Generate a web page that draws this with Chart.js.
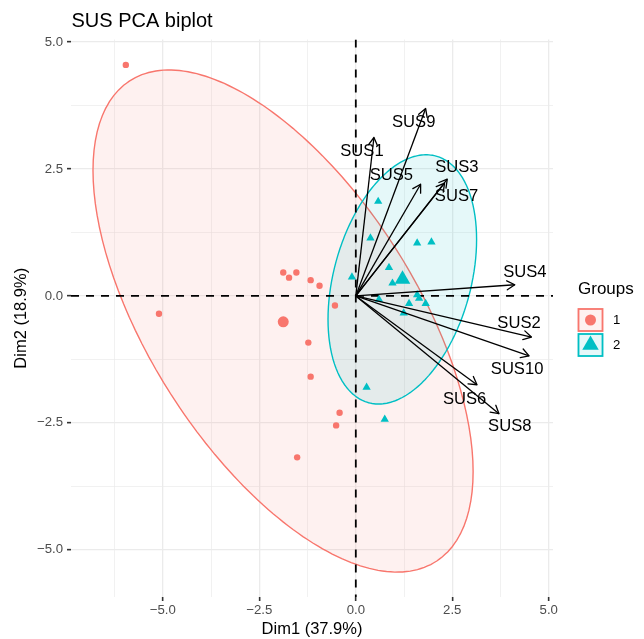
<!DOCTYPE html>
<html>
<head>
<meta charset="utf-8">
<title>SUS PCA biplot</title>
<script src="https://cdn.jsdelivr.net/npm/chart.js@4.4.1/dist/chart.umd.min.js"></script>
<style>
  html, body { margin: 0; padding: 0; background: #fff; }
  #wrap { width: 644px; height: 639px; }
</style>
</head>
<body>
<div id="wrap"><canvas id="biplot"></canvas></div>
<script>
// individuals of group 1 (Dim1, Dim2)
const group1X = [-5.96, -5.10, -1.88, -1.73, -1.54, -1.17, -0.94, -0.54, -1.23, -1.17, -0.42, -0.51, -1.52];
const group1Y = [4.55, -0.35, 0.46, 0.36, 0.46, 0.31, 0.20, -0.19, -0.92, -1.59, -2.30, -2.55, -3.18];

// individuals of group 2
const group2X = [0.58, 0.38, 1.59, 1.96, 0.86, 0.95, -0.10, 0.60, 1.59, 1.64, 1.81, 1.38, 1.24, 0.28, 0.75];
const group2Y = [1.86, 1.14, 1.04, 1.06, 0.56, 0.25, 0.37, -0.07, 0.02, -0.05, -0.15, -0.15, -0.34, -1.80, -2.43];

// group mean points
const groupNames = ['1', '2'];
const meanX = [-1.88, 1.21];
const meanY = [-0.51, 0.33];

// concentration ellipses: centre, half extents along each axis, correlation
const ellipseCx = [-1.885, 1.205];
const ellipseCy = [-0.495, 0.325];
const ellipseHalfX = [4.925, 1.925];
const ellipseHalfY = [4.945, 2.455];
const ellipseCorr = [-0.60, 0.32];

// variables (arrow tips) and where their names sit
const varNames = ['SUS1', 'SUS2', 'SUS3', 'SUS4', 'SUS5', 'SUS6', 'SUS7', 'SUS8', 'SUS9', 'SUS10'];
const varX = [0.47, 4.55, 2.37, 4.12, 1.68, 3.14, 2.30, 3.71, 1.81, 4.49];
const varY = [3.12, -0.81, 2.30, 0.22, 2.20, -1.75, 2.22, -2.32, 3.69, -1.18];
const labelX = [0.16, 4.23, 2.62, 4.38, 0.92, 2.82, 2.61, 3.99, 1.50, 4.18];
const labelY = [2.84, -0.55, 2.54, 0.46, 2.38, -2.03, 1.95, -2.57, 3.42, -1.45];

// axes
const xRange = [-7.38, 5.11];
const yRange = [-5.93, 5.05];
const xMajor = [-5, -2.5, 0, 2.5, 5];
const xMajorLabels = ['\u22125.0', '\u22122.5', '0.0', '2.5', '5.0'];
const xMinor = [-6.25, -3.75, -1.25, 1.25, 3.75];
const yMajor = [-5, -2.5, 0, 2.5, 5];
const yMajorLabels = ['\u22125.0', '\u22122.5', '0.0', '2.5', '5.0'];
const yMinor = [-3.75, -1.25, 1.25, 3.75];

const FONT = '"Liberation Sans", Arial, Helvetica, sans-serif';
const groupColors = ['#F8766D', '#00BFC4'];
const groupFills = ['rgba(248,118,109,0.1)', 'rgba(0,191,196,0.1)'];
const groupShapes = ['circle', 'triangle'];

function ellipsePoints(i) {
  const d = Math.acos(ellipseCorr[i]);
  const pts = [];
  for (let k = 0; k <= 120; k++) {
    const t = k / 120 * 2 * Math.PI;
    pts.push({
      x: ellipseCx[i] + ellipseHalfX[i] * Math.cos(t),
      y: ellipseCy[i] + ellipseHalfY[i] * Math.cos(t + d)
    });
  }
  return pts;
}

function zip(xs, ys) {
  return xs.map((v, i) => ({ x: v, y: ys[i] }));
}

function axisOptions(range, major, labels, minor, title, horizontal) {
  const isMajor = v => major.indexOf(v) >= 0;
  return {
    type: 'linear',
    min: range[0],
    max: range[1],
    border: { display: false },
    afterBuildTicks: scale => {
      scale.ticks = major.concat(minor).sort((a, b) => a - b).map(v => ({ value: v }));
    },
    afterFit: scale => {
      if (horizontal) scale.height = 42; else scale.width = 71;
    },
    grid: {
      color: '#EBEBEB',
      lineWidth: c => (c.tick && isMajor(c.tick.value)) ? 1.3 : 0.7,
      tickLength: 4,
      tickWidth: 1.6,
      tickColor: c => (c.tick && isMajor(c.tick.value)) ? '#333333' : 'rgba(0,0,0,0)'
    },
    ticks: {
      autoSkip: false,
      maxRotation: 0,
      padding: horizontal ? 1 : 4,
      color: '#4D4D4D',
      font: { family: FONT, size: 13.2 },
      callback: v => isMajor(v) ? labels[major.indexOf(v)] : ''
    },
    title: {
      display: true,
      text: title,
      color: '#000',
      font: { family: FONT, size: 16.5 },
      padding: horizontal ? { top: 0, bottom: 0 } : { top: 12, bottom: 0 }
    }
  };
}

const datasets = [];

// tiny tension keeps the outline off the x-sorted fast path, which breaks closed shapes
groupNames.forEach((g, i) => {
  datasets.push({
    type: 'line',
    data: ellipsePoints(i),
    borderColor: groupColors[i],
    borderWidth: 1.4,
    backgroundColor: groupFills[i],
    fill: 'shape',
    pointRadius: 0,
    tension: 0.0001,
    order: 12 - i
  });
});

// dashed reference lines through the origin
datasets.push({
  type: 'line',
  data: [{ x: xRange[0], y: 0 }, { x: xRange[1], y: 0 }],
  borderColor: '#000', borderWidth: 1.8, borderDash: [8, 7],
  pointRadius: 0, fill: false, order: 9
});
datasets.push({
  type: 'line',
  data: [{ x: 0, y: yRange[1] }, { x: 0, y: yRange[0] }],
  borderColor: '#000', borderWidth: 1.8, borderDash: [8, 7],
  pointRadius: 0, fill: false, order: 9
});

datasets.push({
  type: 'scatter', data: zip(group1X, group1Y),
  pointStyle: 'circle', pointRadius: 3.2, borderWidth: 0,
  backgroundColor: groupColors[0], order: 6
});
datasets.push({
  type: 'scatter', data: zip(group2X, group2Y),
  pointStyle: 'triangle', pointRadius: 4.8, borderWidth: 0,
  backgroundColor: groupColors[1], order: 5
});
groupNames.forEach((g, i) => {
  datasets.push({
    type: 'scatter', data: [{ x: meanX[i], y: meanY[i] }],
    pointStyle: groupShapes[i], pointRadius: i === 0 ? 5.5 : 9, borderWidth: 0,
    backgroundColor: groupColors[i], order: 4
  });
});

// variable arrows
varNames.forEach((name, i) => {
  datasets.push({
    type: 'line',
    data: [{ x: 0, y: 0 }, { x: varX[i], y: varY[i] }],
    borderColor: '#000', borderWidth: 1.3,
    pointRadius: 0, fill: false, order: 2
  });
});

const arrowHeads = {
  id: 'arrowHeads',
  afterDatasetsDraw(chart) {
    const { ctx, scales: { x, y } } = chart;
    const x0 = x.getPixelForValue(0), y0 = y.getPixelForValue(0);
    ctx.save();
    ctx.strokeStyle = '#000';
    ctx.lineWidth = 1.3;
    ctx.lineCap = 'round';
    varNames.forEach((name, i) => {
      const x1 = x.getPixelForValue(varX[i]), y1 = y.getPixelForValue(varY[i]);
      const ang = Math.atan2(y1 - y0, x1 - x0);
      ctx.beginPath();
      [-1, 1].forEach(s => {
        const a = ang + Math.PI + s * Math.PI / 6;
        ctx.moveTo(x1, y1);
        ctx.lineTo(x1 + 9 * Math.cos(a), y1 + 9 * Math.sin(a));
      });
      ctx.stroke();
    });
    ctx.fillStyle = '#000';
    ctx.font = '16.6px ' + FONT;
    ctx.textAlign = 'center';
    ctx.textBaseline = 'middle';
    varNames.forEach((name, i) => {
      ctx.fillText(name, x.getPixelForValue(labelX[i]), y.getPixelForValue(labelY[i]));
    });
    ctx.restore();
  }
};

const titleAndLegend = {
  id: 'titleAndLegend',
  afterDraw(chart) {
    const ctx = chart.ctx;
    ctx.save();
    ctx.fillStyle = '#000';
    ctx.textAlign = 'left';
    ctx.textBaseline = 'alphabetic';
    ctx.font = '20px ' + FONT;
    ctx.fillText('SUS PCA biplot', 71.5, 27);

    ctx.font = '17px ' + FONT;
    ctx.fillText('Groups', 578, 294);

    groupNames.forEach((g, i) => {
      const cx = 590.5, cy = 320 + i * 25;
      ctx.fillStyle = '#fff';
      ctx.fillRect(577.5, cy - 12, 26, 24);
      ctx.fillStyle = groupFills[i];
      ctx.fillRect(577.5, cy - 12, 26, 24);
      ctx.strokeStyle = groupColors[i];
      ctx.lineWidth = 1.8;
      ctx.strokeRect(578.5, cy - 11, 24, 22);
      ctx.fillStyle = groupColors[i];
      ctx.beginPath();
      if (groupShapes[i] === 'circle') {
        ctx.arc(cx, cy, 5.5, 0, Math.PI * 2);
      } else {
        const r = 9.5;
        ctx.moveTo(cx, cy - r);
        ctx.lineTo(cx + r * Math.sin(2 * Math.PI / 3), cy - r * Math.cos(2 * Math.PI / 3));
        ctx.lineTo(cx + r * Math.sin(4 * Math.PI / 3), cy - r * Math.cos(4 * Math.PI / 3));
        ctx.closePath();
      }
      ctx.fill();
      ctx.fillStyle = '#000';
      ctx.font = '13.2px ' + FONT;
      ctx.textBaseline = 'middle';
      ctx.fillText(g, 613, cy);
    });
    ctx.restore();
  }
};

new Chart(document.getElementById('biplot'), {
  type: 'scatter',
  data: { datasets: datasets },
  options: {
    responsive: true,
    maintainAspectRatio: false,
    devicePixelRatio: 1,
    animation: false,
    events: [],
    layout: { padding: { left: 0, top: 39.5, right: 91, bottom: 0 } },
    plugins: { legend: { display: false }, tooltip: { enabled: false }, title: { display: false } },
    scales: {
      x: axisOptions(xRange, xMajor, xMajorLabels, xMinor, 'Dim1 (37.9%)', true),
      y: axisOptions(yRange, yMajor, yMajorLabels, yMinor, 'Dim2 (18.9%)', false)
    }
  },
  plugins: [arrowHeads, titleAndLegend]
});
</script>
</body>
</html>
